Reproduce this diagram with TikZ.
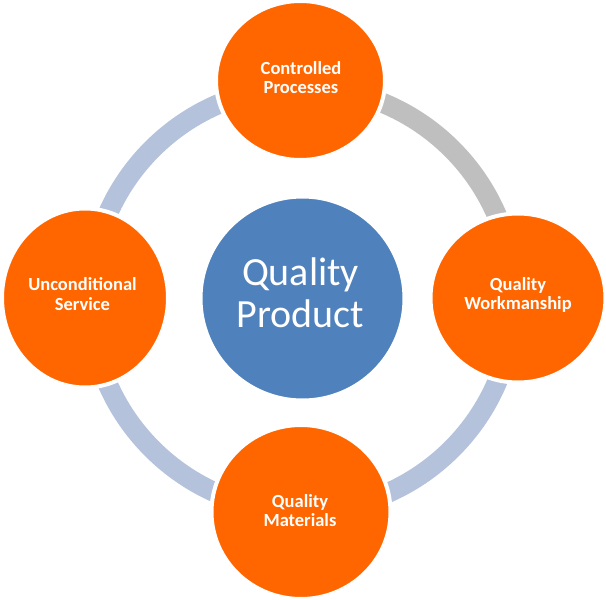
\documentclass[tikz,border=0pt]{standalone}
\usepackage{fontspec}
\setmainfont{Carlito}
\usetikzlibrary{shapes.geometric}
\definecolor{orng}{HTML}{FF6600}
\definecolor{hubblue}{HTML}{4F81BD}
\definecolor{ringblue}{HTML}{B4C2DC}
\definecolor{ringgray}{HTML}{BFBFBF}
\begin{document}
\begin{tikzpicture}[x=1pt,y=-1pt,
  bubble/.style={ellipse, fill=orng, draw=white, line width=4pt, inner sep=0pt},
  hub/.style={circle, fill=hubblue, draw=white, line width=4pt, inner sep=0pt, minimum size=204pt},
  lbl/.style={text=white, align=center, font=\fontsize{18.5}{19.3}\selectfont\bfseries, inner sep=0pt},
  hublbl/.style={text=white, align=center, font=\fontsize{40}{42}\selectfont, inner sep=0pt},
  ringarc/.style={line width=20pt}]
\fill[white] (0,0) rectangle (606,600);
\useasboundingbox (0,0) rectangle (606,600);
\coordinate (o) at (302,299);
% ring segments
\draw[ringarc, draw=ringgray] (o) ++(0:212) arc[start angle=0, end angle=-90, radius=212];
\draw[ringarc, draw=ringblue] (o) ++(-90:212) arc[start angle=-90, end angle=-180, radius=212];
\draw[ringarc, draw=ringblue] (o) ++(-180:212) arc[start angle=-180, end angle=-270, radius=212];
\draw[ringarc, draw=ringblue] (o) ++(90:212) arc[start angle=90, end angle=0, radius=212];
% hub and bubbles
\node[hub] (hub) at (302.5,298.5) {};
\node[bubble, minimum width=169pt, minimum height=159pt] (top) at (300.5,80.5) {};
\node[bubble, minimum width=175pt, minimum height=169pt] (right) at (518,298) {};
\node[bubble, minimum width=166pt, minimum height=179pt] (left) at (85,298) {};
\node[bubble, minimum width=179pt, minimum height=174pt] (bottom) at (301,512) {};
% labels
\node[hublbl] (hubtext) at (300.5,293) {Quality\\Product};
\node[lbl] (toptext) at (301,77.5) {Controlled\\Processes};
\node[lbl] (righttext) at (518,295.3) {Quality\\Workmanship};
\node[lbl] (lefttext) at (82.5,294) {Unconditional\\Service};
\node[lbl] (bottomtext) at (300,510.5) {Quality\\Materials};
\end{tikzpicture}
\end{document}
